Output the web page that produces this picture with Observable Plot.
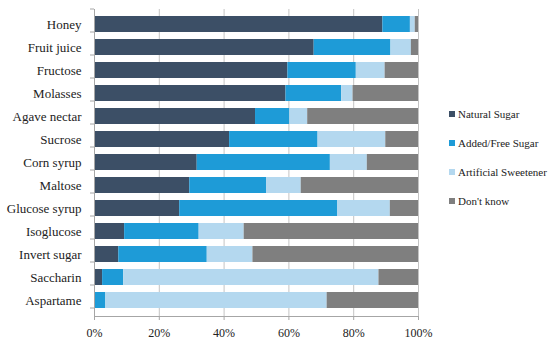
<!DOCTYPE html>
<html><head><meta charset="utf-8">
<script src="https://cdn.jsdelivr.net/npm/d3@7"></script>
<script src="https://cdn.jsdelivr.net/npm/@observablehq/plot@0.6"></script>
</head>
<body style="margin:0;background:#fff;font-family:'Liberation Serif'">
<div id="wrap" style="position:relative;width:550px;height:345px;font-family:'Liberation Serif'"><div id="legend" style="position:absolute;left:449px;top:104px;font-family:'Liberation Serif'"></div></div>
<script>
const categories = ["Honey","Fruit juice","Fructose","Molasses","Agave nectar","Sucrose","Corn syrup","Maltose","Glucose syrup","Isoglucose","Invert sugar","Saccharin","Aspartame"];
const seriesNames = ["Natural Sugar","Added/Free Sugar","Artificial Sweetener","Don't know"];
const seriesColors = ["#3c4f66","#1e9bd7","#b4d8ef","#7f7f7f"];
const natural    = [89.0, 67.8, 59.7, 59.1, 49.7, 41.7, 31.7, 29.4, 26.3, 9.3, 7.5, 2.5, 0.2];
const added      = [8.5, 23.7, 21.1, 17.2, 10.6, 27.3, 41.1, 23.7, 48.7, 23.0, 27.3, 6.5, 3.3];
const artificial = [1.5, 6.3, 8.9, 3.5, 5.5, 20.9, 11.4, 10.7, 16.3, 13.9, 14.1, 78.8, 68.3];
const dontKnow   = [1.0, 2.2, 10.3, 20.2, 34.2, 10.1, 15.8, 36.2, 8.7, 53.8, 51.1, 12.2, 28.2];
const xTicks = [0, 20, 40, 60, 80, 100];

const seriesValues = [natural, added, artificial, dontKnow];
const table = [];
categories.forEach((c, i) => seriesNames.forEach((s, j) => table.push({cat: c, series: s, value: seriesValues[j][i]})));

const axisGray = "#a6a6a6";
const serif = "Liberation Serif";
const chart = Plot.plot({
  width: 550, height: 345,
  marginLeft: 94, marginRight: 132, marginTop: 9, marginBottom: 29,
  style: {fontFamily: serif, background: "#fff"},
  x: {domain: [0, 100]},
  y: {domain: categories, paddingInner: 0.3, paddingOuter: 0.15},
  color: {domain: seriesNames, range: seriesColors},
  marks: [
    Plot.gridX({ticks: xTicks.slice(1), stroke: "#c4c4c4", strokeOpacity: 1}),
    Plot.barX(table, {x: "value", y: "cat", fill: "series", order: seriesNames}),
    Plot.ruleX([0], {stroke: axisGray}),
    Plot.frame({anchor: "bottom", stroke: axisGray}),
    Plot.axisX({ticks: xTicks, tickSize: 4, tickPadding: 8, tickFormat: d => d + "%", stroke: axisGray, fill: "#222", fontSize: 12, label: null}),
    Plot.axisY({tickSize: 0, tickPadding: 13, fill: "#222", fontSize: 13, label: null})
  ]
});
document.getElementById("wrap").prepend(chart);
d3.select(chart).selectAll("text").style("font-family", serif);

// category boundary ticks on the left axis, from the library's band scale
const ys = chart.scale("y");
const x0 = chart.scale("x").apply(0);
const bounds = d3.range(categories.length + 1).map(k => ys.range[0] + k * ys.step);
d3.select(chart).append("g").selectAll("line").data(bounds).join("line")
  .attr("x1", x0 - 4).attr("x2", x0).attr("y1", d => d).attr("y2", d => d)
  .attr("stroke", axisGray);

const legend = d3.select("#legend");
seriesNames.forEach((s, j) => {
  const it = legend.append("div")
    .style("display", "flex").style("align-items", "center").style("height", "19px")
    .style("margin-bottom", "10px").style("font-size", "11px").style("color", "#222")
    .style("white-space", "nowrap").style("font-family", serif);
  it.append("div").style("width", "6px").style("height", "6px").style("margin-right", "3px")
    .style("flex", "none").style("background", seriesColors[j]);
  it.append("span").text(s);
});
</script></body></html>
